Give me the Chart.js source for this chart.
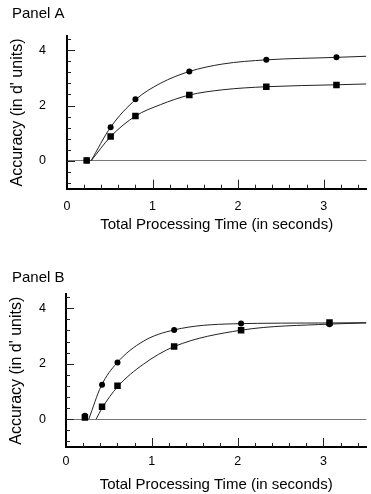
<!DOCTYPE html>
<html>
<head>
<meta charset="utf-8">
<script src="https://cdn.jsdelivr.net/npm/chart.js@4.4.1/dist/chart.umd.min.js"></script>
<style>
  body { margin: 0; background: #fff; }
  canvas { display: block; }
</style>
</head>
<body>
<canvas id="panelA" width="371" height="250"></canvas>
<canvas id="panelB" width="371" height="244"></canvas>
<script>
// Panel A: observed points
const timesA = [0.23, 0.51, 0.80, 1.43, 2.33, 3.15];
const circlesA = [0.03, 1.22, 2.23, 3.23, 3.65, 3.74];
const squaresA = [0.02, 0.88, 1.62, 2.38, 2.68, 2.74];
// Panel A: fitted curves
const curveTimesA = [0.28, 0.51, 0.80, 1.09, 1.43, 1.82, 2.33, 3.15, 3.5];
const curveCirclesA = [0, 1.22, 2.21, 2.80, 3.23, 3.50, 3.65, 3.74, 3.78];
const curveSquaresA = [0, 0.88, 1.62, 2.03, 2.38, 2.57, 2.68, 2.75, 2.78];

// Panel B: observed points
const timesB = [0.22, 0.42, 0.60, 1.26, 2.04, 3.07];
const circlesB = [0.13, 1.24, 2.05, 3.22, 3.45, 3.42];
const squaresB = [0.06, 0.45, 1.21, 2.62, 3.21, 3.49];
// Panel B: fitted curves
const curveTimesB1 = [0.265, 0.41, 0.59, 0.90, 1.26, 1.95, 3.07, 3.5];
const curveCirclesB = [0, 1.20, 2.02, 2.81, 3.22, 3.44, 3.47, 3.48];
const curveTimesB2 = [0.35, 0.42, 0.60, 0.90, 1.26, 2.04, 3.07, 3.5];
const curveSquaresB = [0, 0.40, 1.17, 1.98, 2.62, 3.21, 3.43, 3.47];

// axes
const xLabels = [0, 1, 2, 3];
const yLabels = [0, 2, 4];
const xTickMarks = [0.2, 0.4, 0.6, 0.8, 1, 1.2, 1.4, 1.6, 1.8, 2, 2.2, 2.4, 2.6, 2.8, 3, 3.2, 3.4];
const yTickMarks = [-0.8, -0.4, 0, 0.4, 0.8, 1.2, 1.6, 2, 2.4, 2.8, 3.2, 3.6, 4, 4.4];

const FONT = "'Liberation Sans', Arial, sans-serif";

function pts(xs, ys) {
  return xs.map((x, i) => ({ x: x, y: ys[i] }));
}

// inward tick marks, drawn through the chart scales
const tickPlugin = {
  id: 'inwardTicks',
  afterDatasetsDraw(chart) {
    const ctx = chart.ctx;
    const xs = chart.scales.x, ys = chart.scales.y;
    const area = chart.chartArea;
    ctx.save();
    ctx.strokeStyle = '#222';
    ctx.lineWidth = 1;
    ctx.beginPath();
    xTickMarks.forEach(v => {
      const px = Math.round(xs.getPixelForValue(v)) + 0.5;
      const len = xLabels.includes(v) ? 9 : 4;
      ctx.moveTo(px, area.bottom);
      ctx.lineTo(px, area.bottom - len);
    });
    yTickMarks.forEach(v => {
      const py = Math.round(ys.getPixelForValue(v)) + 0.5;
      const len = yLabels.includes(v) ? 8 : 4;
      ctx.moveTo(area.left, py);
      ctx.lineTo(area.left + len, py);
    });
    ctx.stroke();
    ctx.restore();
  }
};

function makePanel(id, title, lay, circles, squares, times, curve1, curve2) {
  const ctx = document.getElementById(id).getContext('2d');
  return new Chart(ctx, {
    type: 'scatter',
    data: {
      datasets: [
        {
          data: pts(times, circles),
          pointStyle: 'circle',
          pointRadius: 3,
          backgroundColor: '#000',
          borderColor: '#000',
          borderWidth: 0
        },
        {
          data: pts(times, squares),
          pointStyle: 'rect',
          pointRadius: 4.6,
          backgroundColor: '#000',
          borderColor: '#000',
          borderWidth: 0
        },
        {
          data: curve1,
          showLine: true,
          pointRadius: 0,
          borderColor: '#222',
          borderWidth: 1,
          cubicInterpolationMode: 'monotone'
        },
        {
          data: curve2,
          showLine: true,
          pointRadius: 0,
          borderColor: '#222',
          borderWidth: 1,
          cubicInterpolationMode: 'monotone'
        }
      ]
    },
    options: {
      responsive: false,
      animation: false,
      layout: { padding: { left: 12, right: 0, top: 0, bottom: 0 } },
      plugins: {
        legend: { display: false },
        tooltip: { enabled: false },
        title: {
          display: true,
          text: title,
          align: 'start',
          color: '#000',
          font: { family: FONT, size: 15, weight: 'normal', lineHeight: 1.2 },
          padding: { top: lay.titleTop, bottom: lay.titleBottom }
        }
      },
      scales: {
        x: {
          type: 'linear',
          min: 0,
          max: 3.5,
          afterBuildTicks: (s) => { s.ticks = xLabels.map(v => ({ value: v })); },
          afterFit: (s) => { s.height = lay.xHeight; s.paddingLeft = 0; s.paddingRight = 0; },
          grid: { display: false, drawTicks: false },
          border: { display: true, color: '#000', width: 2 },
          ticks: {
            color: '#000',
            padding: lay.xTickPad,
            maxRotation: 0,
            font: { family: FONT, size: 12.5 }
          },
          title: {
            display: true,
            text: 'Total Processing Time (in seconds)',
            color: '#000',
            font: { family: FONT, size: 15, lineHeight: 1.2 },
            padding: { top: 0, bottom: lay.xTitleBottom }
          }
        },
        y: {
          type: 'linear',
          min: -1,
          max: 4.5,
          afterBuildTicks: (s) => { s.ticks = yLabels.map(v => ({ value: v })); },
          afterFit: (s) => { s.width = lay.yWidth; },
          grid: {
            display: true,
            drawTicks: false,
            lineWidth: 1,
            color: (c) => (c.tick && c.tick.value === 0 ? '#777' : 'rgba(0,0,0,0)')
          },
          border: { display: true, color: '#000', width: 2 },
          ticks: {
            color: '#000',
            padding: lay.yTickPad,
            font: { family: FONT, size: 12.5 }
          },
          title: {
            display: true,
            text: "Accuracy (in d' units)",
            color: '#000',
            font: { family: FONT, size: 16, lineHeight: 1 },
            padding: { top: lay.yTitleTop, bottom: 0 }
          }
        }
      }
    },
    plugins: [tickPlugin]
  });
}

makePanel('panelA', 'Panel A',
  { titleTop: 5, titleBottom: 13.3, xHeight: 61.3, xTickPad: 10, xTitleBottom: 16.5, yWidth: 55, yTickPad: 21, yTitleTop: -2 },
  circlesA, squaresA, timesA,
  pts(curveTimesA, curveCirclesA), pts(curveTimesA, curveSquaresA));

makePanel('panelB', 'Panel B',
  { titleTop: 19, titleBottom: 7.4, xHeight: 47, xTickPad: 7.5, xTitleBottom: 0, yWidth: 54, yTickPad: 20, yTitleTop: -3 },
  circlesB, squaresB, timesB,
  pts(curveTimesB1, curveCirclesB), pts(curveTimesB2, curveSquaresB));
</script>
</body>
</html>
